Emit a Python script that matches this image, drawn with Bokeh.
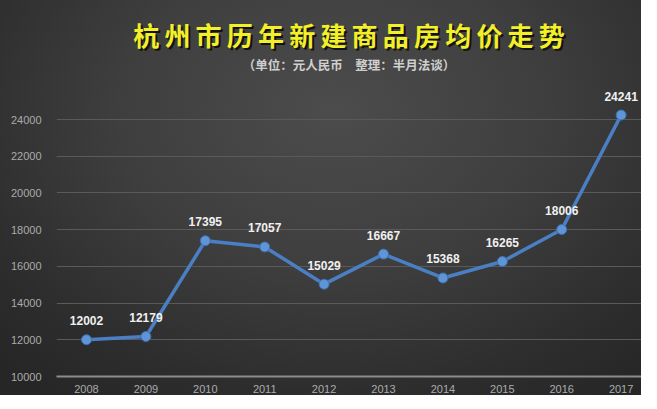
from bokeh.plotting import figure
from bokeh.models import ColumnDataSource, FixedTicker, Label, Range1d
from bokeh.core.properties import value
from bokeh.embed import file_html
from bokeh.resources import INLINE

years = ["2008", "2009", "2010", "2011", "2012", "2013", "2014", "2015", "2016", "2017"]
prices = [12002, 12179, 17395, 17057, 15029, 16667, 15368, 16265, 18006, 24241]
y_ticks = [10000, 12000, 14000, 16000, 18000, 20000, 22000, 24000]
title_text = "杭州市历年新建商品房均价走势"
subtitle_text = "（单位：元人民币　整理：半月法谈）"

year_nums = [int(y) for y in years]
src = ColumnDataSource(dict(x=year_nums, y=prices, lbl=[str(v) for v in prices]))

p = figure(x_range=Range1d(2007.495, 2017.343), y_range=Range1d(10000, 30483),
           frame_width=585, frame_height=376,
           output_backend="svg", toolbar_location=None,
           min_border_left=56, min_border_right=0, min_border_top=0, min_border_bottom=16)
p.background_fill_alpha = 0
p.border_fill_alpha = 0
p.outline_line_color = None
p.styles = {"background": "radial-gradient(ellipse 75% 90% at 52% 28%, #4c4c4c 0%, #3e3e3e 45%, #2d2d2d 80%, #262626 100%)"}

p.line("x", "y", source=src, line_color="#4a7fc4", line_width=3.5)
p.scatter("x", "y", source=src, size=10, fill_color="#5f95d6", line_color="#3b6fb0", line_width=1)
p.text("x", "y", text="lbl", source=src, y_offset=-19, text_align="center", text_baseline="middle",
       text_color="#f0f0f0", text_font=value("Liberation Sans"), text_font_size="12px",
       text_font_style="bold")

p.yaxis.ticker = FixedTicker(ticks=y_ticks)
p.yaxis.axis_line_color = None
p.yaxis.major_tick_line_color = None
p.yaxis.minor_tick_line_color = None
p.yaxis.major_label_text_color = "#ababab"
p.yaxis.major_label_text_font = "Liberation Sans"
p.yaxis.major_label_text_font_size = "11px"
p.yaxis.major_label_standoff = 9

p.xaxis.ticker = FixedTicker(ticks=year_nums)
p.xaxis.major_label_overrides = {n: s for n, s in zip(year_nums, years)}
p.xaxis.axis_line_color = "#8c8c8c"
p.xaxis.axis_line_width = 2
p.xaxis.major_tick_line_color = None
p.xaxis.minor_tick_line_color = None
p.xaxis.major_label_text_color = "#ababab"
p.xaxis.major_label_text_font = "Liberation Sans"
p.xaxis.major_label_text_font_size = "11px"
p.xaxis.major_label_standoff = 2

p.xgrid.grid_line_color = None
p.ygrid.grid_line_color = "#5a5a5a"
p.ygrid.grid_line_width = 1
p.ygrid.ticker = FixedTicker(ticks=y_ticks)

spaced_title = "\u2009".join(title_text)
# title with shadow
p.add_layout(Label(x=294.5, y=340.5, x_units="screen", y_units="screen", text=spaced_title,
                   text_font="Noto Sans CJK SC", text_font_size="26px", text_font_style="bold",
                   text_color="#121212", text_align="center", text_baseline="middle"))
p.add_layout(Label(x=292.5, y=342.5, x_units="screen", y_units="screen", text=spaced_title,
                   text_font="Noto Sans CJK SC", text_font_size="26px", text_font_style="bold",
                   text_color="#f3ef28", text_align="center", text_baseline="middle"))
p.add_layout(Label(x=292.5, y=312, x_units="screen", y_units="screen", text=subtitle_text,
                   text_font="Noto Sans CJK SC", text_font_size="12.5px", text_font_style="bold",
                   text_color="#cfcfcf", text_align="center", text_baseline="middle"))

open("out.html", "w").write(file_html(p, INLINE))
